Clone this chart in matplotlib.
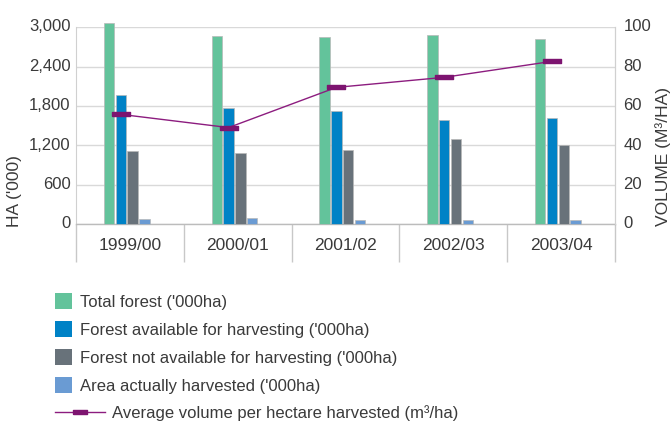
import numpy as np
import matplotlib
matplotlib.use("Agg")
import matplotlib.pyplot as plt
from matplotlib.lines import Line2D
from matplotlib.patches import Patch
from matplotlib.transforms import ScaledTranslation

plt.rcParams['font.family'] = ['Liberation Sans', 'DejaVu Sans']

# Data
years = ["1999/00", "2000/01", "2001/02", "2002/03", "2003/04"]
total_forest = [3070, 2868, 2853, 2878, 2827]
available = [1970, 1777, 1726, 1589, 1619]
not_available = [1112, 1086, 1127, 1294, 1213]
harvested = [81, 91, 71, 66, 66]
avg_volume = [55.8, 49.1, 69.5, 74.6, 82.7]

ha_ticks = [0, 600, 1200, 1800, 2400, 3000]
vol_ticks = [0, 20, 40, 60, 80, 100]

series = [
    ("Total forest ('000ha)", total_forest, "#63c39b"),
    ("Forest available for harvesting ('000ha)", available, "#0082c6"),
    ("Forest not available for harvesting ('000ha)", not_available, "#68727a"),
    ("Area actually harvested ('000ha)", harvested, "#6a9bd3"),
]
line_label = "Average volume per hectare harvested (m\u00b3/ha)"
line_color = "#8c1c7f"
marker_color = "#7d1470"
text_color = "#3a3a3a"
grid_color = "#d9d9d9"

fig = plt.figure(figsize=(6.72, 4.23), dpi=100)
ax = fig.add_axes([76 / 672, 1 - 224.3 / 423, (615 - 76) / 672, (224.3 - 27.3) / 423])

x = np.arange(len(years))
pitch = 0.1095
width = 0.096
offsets = (np.arange(4) - 1.5) * pitch - 0.03

for (label, vals, color), off in zip(series, offsets):
    ax.bar(x + off, vals, width=width, color=color, edgecolor="#b8b8b8",
           linewidth=0.5, label=label, zorder=3, clip_on=False)

ax.set_xlim(-0.5, len(years) - 0.5)
ax.set_ylim(0, 3000)
ax.set_yticks(ha_ticks)
ax.set_yticklabels([f"{v:,}" for v in ha_ticks])
ax.yaxis.grid(True, color=grid_color, linewidth=1, zorder=0)
ax.set_axisbelow(True)

ax.set_xticks(x)
ax.set_xticklabels(years)
ax.set_xticks(np.arange(len(years) + 1) - 0.5, minor=True)
ax.tick_params(axis="x", which="major", length=0, pad=10, labelsize=12.5,
               colors=text_color)
ax.tick_params(axis="x", which="minor", length=27, width=1, color="#c8c8c8",
               direction="out")
ax.tick_params(axis="y", length=0, pad=4, labelsize=12, colors=text_color)

ax.spines["top"].set_visible(False)
ax.spines["left"].set_color("#d0d0d0")
ax.spines["right"].set_color("#d0d0d0")
ax.spines["bottom"].set_color("#bcbcbc")
ax.spines["bottom"].set_linewidth(1)

# Line on secondary axis
ax2 = ax.twinx()
ax2.set_ylim(0, 100)
ax2.set_yticks(vol_ticks)
rect_marker = [(-1, -0.28), (1, -0.28), (1, 0.28), (-1, 0.28), (-1, -0.28)]
ax2.plot(x + offsets[1], avg_volume, color=line_color, linewidth=1,
         marker=rect_marker, markersize=12.5, markerfacecolor=marker_color,
         markeredgecolor=marker_color, zorder=4, label=line_label)
ax2.tick_params(axis="y", length=0, pad=6, labelsize=12, colors=text_color)
for side in ["top", "left", "bottom"]:
    ax2.spines[side].set_visible(False)
ax2.spines["right"].set_color("#d0d0d0")

# Nudge y tick labels slightly above their gridlines
lift = ScaledTranslation(0, 2 / 100, fig.dpi_scale_trans)
for lab in ax.get_yticklabels() + ax2.get_yticklabels():
    lab.set_transform(lab.get_transform() + lift)

# Axis titles
fig.text(15 / 672, 1 - 227 / 423, "HA ('000)", rotation=90, ha="center",
         va="bottom", fontsize=12.5, color=text_color)
fig.text(663 / 672, 1 - 226 / 423, "VOLUME (M\u00b3/HA)", rotation=90,
         ha="center", va="bottom", fontsize=12.5, color=text_color)

# Legends
bar_handles = [Patch(facecolor=c, edgecolor="none") for _, _, c in series]
bar_labels = [lab for lab, _, _ in series]
leg1 = fig.legend(bar_handles, bar_labels, loc="upper left",
                  bbox_to_anchor=(55 / 672, 1 - 293 / 423), frameon=False,
                  borderpad=0, borderaxespad=0, fontsize=12,
                  handlelength=1.02, handleheight=1.08, handletextpad=0.45,
                  labelspacing=0.69, labelcolor=text_color)

line_handle = Line2D([], [], color=line_color, linewidth=1, marker=rect_marker,
                     markersize=10, markerfacecolor=marker_color,
                     markeredgecolor=marker_color)
leg2 = fig.legend([line_handle], [line_label], loc="center left",
                  bbox_to_anchor=(55 / 672, 1 - 413 / 423), frameon=False,
                  borderpad=0, borderaxespad=0, fontsize=12,
                  handlelength=3.0, handletextpad=0.45, labelcolor=text_color)

fig.savefig("out.png", dpi=100, facecolor="white")
